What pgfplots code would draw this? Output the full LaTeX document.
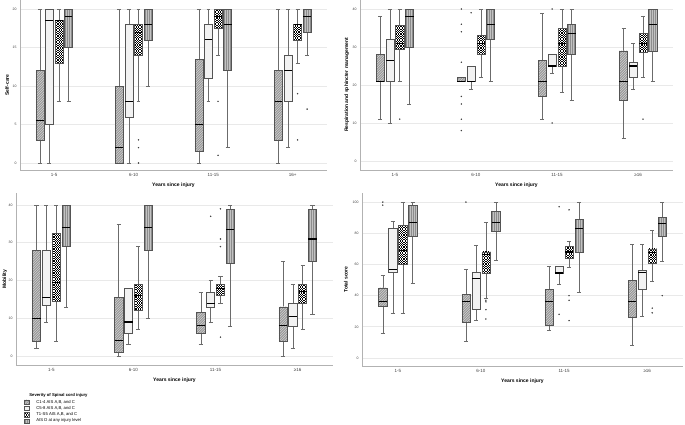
\documentclass[border=0pt]{standalone}
\usepackage{fontspec}
\setmainfont{Liberation Sans}
\usepackage{pgfplots}
\pgfplotsset{compat=1.18}
\usepgfplotslibrary{statistics}
\definecolor{boxline}{gray}{0.33}
\definecolor{whisk}{gray}{0.42}
\definecolor{cAbg}{gray}{0.58}
\definecolor{cAln}{gray}{0.84}
\definecolor{cBbg}{gray}{0.95}
\definecolor{cDbg}{gray}{0.76}
\definecolor{cDln}{gray}{0.55}
\tikzset{
 texA/.style={fill=cAbg, path picture={\foreach \k in {-180,-177.5,...,10} {\draw[cAln, line width=0.5pt] ([xshift=\k pt]path picture bounding box.south west) -- ++(190pt,190pt);}}},
 texB/.style={fill=cBbg},
 texC/.style={fill=white, path picture={%
   \foreach \r in {0.6,3.0,...,180} {\draw[black, line width=1.2pt, dash pattern=on 1.2pt off 1.2pt] ([yshift=\r pt]path picture bounding box.south west) -- ([yshift=\r pt, xshift=2pt]path picture bounding box.south east);}%
   \foreach \r in {1.8,4.2,...,180} {\draw[black, line width=1.2pt, dash pattern=on 1.2pt off 1.2pt, dash phase=1.2pt] ([yshift=\r pt]path picture bounding box.south west) -- ([yshift=\r pt, xshift=2pt]path picture bounding box.south east);}}},
 texD/.style={fill=cDbg, path picture={\foreach \k in {1,3,5,7} {\draw[cDln, line width=0.6pt] ([xshift=\k pt]path picture bounding box.south west) -- ([xshift=\k pt]path picture bounding box.north west);}}},
}
\pgfplotsset{
 common/.style={scale only axis, xmin=-0.43, xmax=3.43,
   axis x line*=bottom, axis y line*=left,
   axis line style={gray!60, line width=0.6pt},
   xtick={0,1,2,3}, major tick length=0pt,
   ymajorgrids, grid style={gray!17, line width=0.9pt},
   /pgf/number format/assume math mode=true,
   yticklabel style={font=\fontsize{3.5}{4}\selectfont, text=black!75},
   xticklabel style={font=\fontsize{4.5}{5}\selectfont, text=black!75},
   xlabel={Years since injury},
   every axis x label/.style={at={(axis description cs:0.5,0)}, anchor=center, yshift=-15.5pt, font=\bfseries\fontsize{5}{6}\selectfont}},
 ylab/.style={every axis y label/.style={at={(axis description cs:#1,0.5)}, rotate=90, anchor=center, font=\bfseries\fontsize{5}{6}\selectfont}},
 bcom/.style={forget plot, draw=boxline, mark=*, mark size=0.5pt,
   mark options={solid, draw=black!75, fill=black!75},
   boxplot/draw direction=y, boxplot/box extend=0.1, boxplot/whisker extend=0.05,
   boxplot/every median/.style={draw=black, line width=1.1pt},
   boxplot/every whisker/.style={draw=whisk, line width=0.5pt}},
 bA/.style={bcom, boxplot/every box/.style={draw=boxline, line width=0.5pt, texA}},
 bB/.style={bcom, boxplot/every box/.style={draw=boxline, line width=0.5pt, texB}},
 bC/.style={bcom, boxplot/every box/.style={draw=boxline, line width=0.5pt, texC}},
 bD/.style={bcom, boxplot/every box/.style={draw=boxline, line width=0.5pt, texD}},
}
\newcommand{\bx}[7]{\addplot[#1, boxplot prepared={draw direction=y, draw position=#2, lower whisker=#3, lower quartile=#4, median=#5, upper quartile=#6, upper whisker=#7}] coordinates {};}
\newcommand{\bxo}[8]{\addplot[#1, boxplot prepared={draw direction=y, draw position=#2, lower whisker=#3, lower quartile=#4, median=#5, upper quartile=#6, upper whisker=#7}] table[row sep=\\, y index=0] {v\\ #8};}
\begin{document}
\begin{tikzpicture}
\useasboundingbox (0,0) rectangle (685pt,424pt);
% ---------------- Self-care
\begin{axis}[common, ylab=-0.042, at={(20pt,424pt)}, anchor=north west, width=307pt, height=170pt,
  ymin=-0.91, ymax=21.17, ytick={0,5,10,15,20}, xticklabels={1-5,6-10,11-15,16+}, ylabel={Self-care}]
\bx{bA}{-0.18}{0}{3}{5.5}{12}{20}
\bx{bB}{-0.06}{0}{5}{18.5}{20}{20}
\bx{bC}{0.06}{8}{13}{18.5}{18.5}{20}
\bx{bD}{0.18}{8}{15}{19}{20}{20}
\bx{bA}{0.82}{0}{0}{2}{10}{20}
\bx{bB}{0.94}{0}{6}{8}{18}{20}
\bxo{bC}{1.06}{8}{14}{17}{18}{20}{3\\ 2\\ 0\\}
\bx{bD}{1.18}{10}{16}{18}{20}{20}
\bx{bA}{1.82}{0}{1.5}{5}{13.5}{20}
\bx{bB}{1.94}{8}{11}{16}{18}{20}
\bxo{bC}{2.06}{14}{17.5}{19}{20}{20}{8\\ 1\\}
\bx{bD}{2.18}{2}{12}{18}{20}{20}
\bx{bA}{2.82}{0}{3}{8}{12}{20}
\bx{bB}{2.94}{2}{8}{12}{14}{20}
\bxo{bC}{3.06}{13}{16}{18}{18}{20}{9\\ 3\\}
\bxo{bD}{3.18}{14}{17}{19}{20}{20}{7\\}
\end{axis}
% ---------------- Respiration
\begin{axis}[common, ylab=-0.042, at={(360pt,424pt)}, anchor=north west, width=313pt, height=170pt,
  ymin=-2.37, ymax=42.37, ytick={0,10,20,30,40}, xticklabels={1-5,6-10,11-15,{≥16}}, ylabel={Respiration and sphincter management}]
\bx{bA}{-0.18}{11}{21}{21}{28}{38}
\bx{bB}{-0.06}{10}{21}{26.5}{32}{40}
\bxo{bC}{0.06}{21}{29.5}{31}{35.6}{40}{11\\}
\bx{bD}{0.18}{15}{30}{38}{40}{40}
\bxo{bA}{0.82}{21}{21}{21}{22}{22}{40\\ 36\\ 34\\ 26\\ 17\\ 15\\ 11\\ 8\\}
\bxo{bB}{0.94}{19}{21}{21}{25}{25}{39\\}
\bx{bC}{1.06}{22}{28}{31}{33}{40}
\bx{bD}{1.18}{21}{32}{36}{40}{40}
\bx{bA}{1.82}{11}{17}{21}{26.5}{39}
\bxo{bB}{1.94}{23}{25}{25}{28}{28}{40\\ 10\\}
\bx{bC}{2.06}{18}{25}{31}{35}{40}
\bx{bD}{2.18}{16}{28}{33.5}{36}{40}
\bx{bA}{2.82}{6}{16}{21}{29}{35}
\bx{bB}{2.94}{19}{22}{25}{26}{31}
\bxo{bC}{3.06}{22}{28.5}{31}{33.5}{38}{11\\}
\bx{bD}{3.18}{21}{29}{36}{40}{40}
\end{axis}
% ---------------- Mobility
\begin{axis}[common, ylab=-0.035, at={(16pt,231pt)}, anchor=north west, width=317pt, height=172pt,
  ymin=-2.38, ymax=43.18, ytick={0,10,20,30,40}, xticklabels={1-5,6-10,11-15,{≥16}}, ylabel={Mobility},
  legend style={at={(axis description cs:0.025,-0.163)}, anchor=north west, draw=none, fill=none,
    font=\fontsize{4.2}{5}\selectfont, row sep=1.3pt, inner sep=0pt,
    nodes={inner sep=0.5pt, text height=3pt, text depth=1pt}}, legend cell align=left]
\bx{bA}{-0.18}{2}{4}{10}{28}{40}
\bx{bB}{-0.06}{9}{13.5}{15.5}{28}{40}
\bx{bC}{0.06}{4}{14.5}{19.5}{32.5}{40}
\bx{bD}{0.18}{13}{29}{34}{40}{40}
\bx{bA}{0.82}{0}{1}{4}{15.5}{35}
\bx{bB}{0.94}{3}{6}{9}{18}{18}
\bx{bC}{1.06}{7}{12}{16}{19}{29}
\bx{bD}{1.18}{10}{28}{34}{40}{40}
\bx{bA}{1.82}{3}{6}{8}{11.5}{17}
\bxo{bB}{1.94}{9}{13}{14}{17}{20}{37\\}
\bxo{bC}{2.06}{14}{16}{18}{19}{21}{39\\ 31\\ 29\\ 5\\}
\bx{bD}{2.18}{8}{24.5}{33.5}{39}{40}
\bx{bA}{2.82}{0}{4}{8}{13}{25}
\bx{bB}{2.94}{2}{8}{10.5}{14}{19}
\bx{bC}{3.06}{7}{14}{17}{19}{24}
\bx{bD}{3.18}{11}{25}{31}{39}{40}
\addlegendimage{empty legend}
\addlegendentry[xshift=-7pt]{\textbf{Severity of Spinal cord injury}}
\addlegendimage{legend image code/.code={\draw[draw=boxline, line width=0.4pt, texA] (0pt,-2.2pt) rectangle (4.4pt,2.2pt);}}
\addlegendentry{C1-4 AIS A,B, and C}
\addlegendimage{legend image code/.code={\draw[draw=boxline, line width=0.4pt, texB] (0pt,-2.2pt) rectangle (4.4pt,2.2pt);}}
\addlegendentry{C5-8 AIS A,B, and C}
\addlegendimage{legend image code/.code={\draw[draw=boxline, line width=0.4pt, texC] (0pt,-2.2pt) rectangle (4.4pt,2.2pt);}}
\addlegendentry{T1-S5 AIS A,B, and C}
\addlegendimage{legend image code/.code={\draw[draw=boxline, line width=0.4pt, texD] (0pt,-2.2pt) rectangle (4.4pt,2.2pt);}}
\addlegendentry{AIS D at any injury level}
\end{axis}
% ---------------- Total score
\begin{axis}[common, ylab=-0.05, at={(362pt,231pt)}, anchor=north west, width=321pt, height=173pt,
  ymin=-5.13, ymax=105.8, ytick={0,20,40,60,80,100}, xticklabels={1-5,6-10,11-15,{≥16}}, ylabel={Total score}]
\bxo{bA}{-0.18}{16}{33}{36.5}{45}{53}{100\\ 98\\}
\bx{bB}{-0.06}{29}{55}{57}{83}{88}
\bx{bC}{0.06}{29}{60}{69}{85}{100}
\bx{bD}{0.18}{48}{78}{87}{98}{100}
\bxo{bA}{0.82}{11}{23}{36.5}{41}{57}{100\\}
\bx{bB}{0.94}{24}{31}{51}{55}{72}
\bxo{bC}{1.06}{38}{54.5}{66.5}{68}{87}{37\\ 36\\ 31\\ 25\\}
\bx{bD}{1.18}{63}{81}{87}{94}{100}
\bx{bA}{1.82}{18}{21}{36}{44}{59}
\bxo{bB}{1.94}{47}{54.5}{54.5}{59}{59}{97\\ 28\\}
\bxo{bC}{2.06}{58}{64}{68}{71.5}{75}{95\\ 40\\ 37\\ 24\\}
\bx{bD}{2.18}{42}{68}{83}{89}{100}
\bx{bA}{2.82}{8}{26}{36.5}{50}{73}
\bx{bB}{2.94}{27}{44}{55}{56}{73}
\bxo{bC}{3.06}{49}{61}{67.5}{70}{82}{32\\ 29\\}
\bxo{bD}{3.18}{62}{78}{86}{90.5}{100}{40\\}
\end{axis}
\end{tikzpicture}
\end{document}
